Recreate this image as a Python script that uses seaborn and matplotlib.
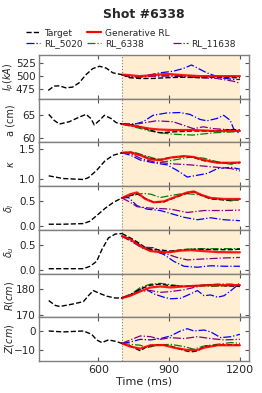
import numpy as np
import matplotlib
matplotlib.use("Agg")
import matplotlib.pyplot as plt
import seaborn as sns
from matplotlib.lines import Line2D

sns.set_style("ticks")
plt.rcParams['font.family'] = ['DejaVu Sans']

# ---------------- data ----------------
# Ip (kA)
ip_pre_t = [388, 413, 435, 463, 491, 519, 548, 577, 605, 633, 662, 700]
ip_pre = [472, 480.5, 481, 477, 478.5, 487, 503, 515, 519.5, 516, 506.5, 503]
ip_post_t = [700, 733, 775, 832, 889, 960, 1031, 1102, 1173, 1200]
ip_target = [503, 497, 495.5, 495.5, 497, 498, 497, 498, 497, 497]
ip_gen = [503, 502, 500, 502, 504.5, 502, 500, 500, 500, 500]
ip_5020_t = [700, 733, 790, 860, 917, 960, 995, 1024, 1060, 1116, 1173, 1200]
ip_5020 = [503, 498, 500, 506.5, 509.7, 515, 522, 515, 506.5, 497, 493.5, 493.5]
ip_6338 = [503, 500, 499, 501, 502, 501, 500, 500, 500, 500]
ip_11638 = [503, 499, 498, 500, 500, 499, 497, 495.5, 490, 486]

# minor radius a (cm)
a_pre_t = [390, 413, 435, 477, 519, 548, 569, 583, 605, 626, 654, 676, 700]
a_pre = [65.2, 63.9, 63.1, 63.6, 64.6, 65.2, 64.3, 62.9, 63.9, 65.0, 64.3, 63.4, 63.1]
a_post_t = [700, 750, 818, 860, 917, 1000, 1090, 1173, 1200]
a_target = [63.1, 62.9, 61.8, 61.2, 61.4, 61.6, 61.6, 61.9, 61.8]
a_gen = [63.1, 62.7, 62.1, 61.9, 61.8, 61.8, 61.6, 61.6, 61.6]
a_6338 = [63.1, 62.5, 61.6, 61.2, 60.9, 60.7, 61.2, 61.4, 61.6]
a_5020_t = [700, 748, 790, 832, 889, 946, 988, 1031, 1060, 1102, 1131, 1159, 1173, 1200]
a_5020 = [63.1, 63.0, 63.6, 65.0, 65.5, 65.6, 65.2, 64.1, 63.8, 64.3, 65.0, 63.9, 62.1, 60.9]
a_11638_t = [700, 775, 846, 917, 974, 1003, 1045, 1088, 1173, 1200]
a_11638 = [63.1, 63.2, 63.8, 63.6, 62.6, 62.1, 62.5, 62.1, 61.8, 61.6]

# elongation kappa
k_pre_t = [390, 451, 537, 558, 593, 629, 664, 700]
k_pre = [1.06, 1.016, 1.0, 1.03, 1.15, 1.31, 1.40, 1.44]
k_post_t = [700, 736, 778, 821, 863, 906, 963, 1005, 1048, 1105, 1162, 1200]
k_target = [1.44, 1.45, 1.40, 1.34, 1.33, 1.36, 1.38, 1.36, 1.31, 1.28, 1.27, 1.28]
k_gen = [1.44, 1.445, 1.40, 1.33, 1.32, 1.36, 1.385, 1.37, 1.32, 1.275, 1.275, 1.28]
k_6338_t = [700, 750, 792, 835, 878, 934, 991, 1048, 1105, 1162, 1200]
k_6338 = [1.44, 1.45, 1.40, 1.35, 1.29, 1.33, 1.37, 1.35, 1.29, 1.25, 1.28]
k_5020_t = [700, 736, 778, 835, 892, 934, 977, 1020, 1062, 1105, 1162, 1200]
k_5020 = [1.44, 1.40, 1.32, 1.275, 1.24, 1.15, 1.04, 1.07, 1.10, 1.18, 1.20, 1.17]
k_11638_t = [700, 736, 778, 835, 906, 991, 1076, 1162, 1200]
k_11638 = [1.44, 1.43, 1.35, 1.29, 1.26, 1.24, 1.21, 1.18, 1.14]

# lower triangularity
dl_pre_t = [390, 451, 537, 565, 593, 629, 664, 700]
dl_pre = [0.027, 0.027, 0.04, 0.09, 0.205, 0.356, 0.48, 0.57]
dl_post_t = [700, 736, 764, 799, 835, 878, 920, 977, 1005, 1034, 1076, 1133, 1200]
dl_target = [0.57, 0.62, 0.66, 0.56, 0.48, 0.49, 0.57, 0.67, 0.70, 0.63, 0.55, 0.53, 0.53]
dl_gen = [0.57, 0.65, 0.685, 0.55, 0.48, 0.50, 0.58, 0.685, 0.705, 0.64, 0.57, 0.55, 0.55]
dl_6338_t = [700, 736, 792, 821, 863, 906, 963, 1020, 1076, 1133, 1162, 1200]
dl_6338 = [0.57, 0.62, 0.665, 0.65, 0.58, 0.62, 0.665, 0.64, 0.58, 0.53, 0.51, 0.55]
dl_5020_t = [700, 728, 764, 806, 863, 906, 963, 1020, 1076, 1133, 1200]
dl_5020 = [0.57, 0.58, 0.41, 0.34, 0.31, 0.25, 0.17, 0.12, 0.16, 0.12, 0.10]
dl_11638_t = [700, 736, 764, 821, 906, 977, 1048, 1133, 1200]
dl_11638 = [0.57, 0.48, 0.39, 0.36, 0.34, 0.27, 0.31, 0.31, 0.32]

# upper triangularity
du_pre_t = [390, 537, 565, 593, 615, 643, 672, 700]
du_pre = [0.02, 0.02, 0.07, 0.17, 0.41, 0.65, 0.73, 0.74]
du_post_t = [700, 736, 764, 806, 849, 906, 963, 1020, 1090, 1162, 1200]
du_target = [0.74, 0.65, 0.57, 0.43, 0.41, 0.38, 0.41, 0.42, 0.41, 0.41, 0.42]
du_gen_t = [700, 736, 778, 821, 863, 906, 948, 991, 1048, 1105, 1162, 1200]
du_gen = [0.685, 0.62, 0.48, 0.38, 0.36, 0.36, 0.39, 0.40, 0.38, 0.36, 0.356, 0.356]
du_6338_t = [700, 736, 778, 821, 878, 920, 977, 1048, 1119, 1200]
du_6338 = [0.685, 0.64, 0.50, 0.41, 0.34, 0.38, 0.42, 0.43, 0.43, 0.43]
du_5020_t = [700, 750, 792, 835, 878, 920, 963, 1020, 1076, 1133, 1200]
du_5020 = [0.685, 0.55, 0.43, 0.39, 0.31, 0.17, 0.07, 0.05, 0.08, 0.07, 0.07]
du_11638_t = [700, 750, 792, 835, 878, 934, 977, 1048, 1133, 1200]
du_11638 = [0.685, 0.58, 0.46, 0.45, 0.34, 0.25, 0.20, 0.22, 0.24, 0.25]

# major radius R (cm)
r_pre_t = [390, 418, 437, 494, 537, 558, 579, 600, 636, 672, 700]
r_pre = [175.5, 173.6, 173.2, 174.2, 175.1, 177.4, 179.4, 178.5, 177.2, 176.5, 176.5]
r_post_t = [700, 736, 778, 821, 863, 906, 963, 1020, 1076, 1133, 1200]
r_target = [176.5, 177.7, 180.0, 181.5, 181.9, 181.3, 181.0, 181.3, 181.7, 181.3, 181.0]
r_gen = [176.5, 177.4, 179.1, 180.6, 181.0, 180.6, 181.0, 181.3, 181.5, 181.5, 181.5]
r_6338 = [176.5, 177.8, 180.6, 181.9, 182.2, 181.7, 181.0, 181.3, 181.0, 181.2, 181.5]
r_5020_t = [700, 721, 750, 792, 835, 878, 906, 948, 991, 1020, 1048, 1076, 1105, 1133, 1162, 1190, 1200]
r_5020 = [176.5, 177.4, 178.5, 180.6, 178.1, 176.8, 176.2, 176.4, 178.1, 179.4, 177.4, 177.7, 176.8, 177.4, 179.4, 181.5, 182.6]
r_11638_t = [700, 736, 778, 821, 863, 906, 963, 1005, 1048, 1105, 1162, 1200]
r_11638 = [176.5, 177.4, 179.1, 179.4, 178.7, 179.0, 179.7, 180.6, 181.5, 181.9, 181.9, 181.5]

# vertical position Z (cm)
z_pre_t = [390, 451, 537, 572, 593, 615, 643, 672, 700]
z_pre = [0.0, -0.5, 0.0, -1.75, -4.7, -6.1, -4.7, -5.4, -6.5]
z_post_t = [700, 736, 764, 778, 806, 849, 906, 963, 991, 1020, 1048, 1105, 1162, 1200]
z_target = [-6.5, -7.9, -9.6, -10.4, -8.2, -7.2, -7.9, -10.2, -11.0, -10.5, -8.2, -7.5, -7.2, -7.5]
z_gen_t = [700, 736, 778, 821, 878, 920, 977, 1020, 1048, 1105, 1200]
z_gen = [-6.5, -8.2, -9.3, -7.5, -7.4, -8.8, -10.0, -10.0, -8.8, -7.5, -7.5]
z_6338_t = [700, 736, 778, 806, 849, 906, 963, 1005, 1048, 1105, 1162, 1200]
z_6338 = [-6.5, -7.0, -7.5, -8.8, -7.5, -7.0, -8.2, -9.6, -7.9, -7.0, -6.1, -6.5]
z_5020_t = [700, 736, 778, 821, 863, 906, 948, 977, 1005, 1048, 1076, 1119, 1162, 1200]
z_5020 = [-6.5, -5.8, -4.4, -4.7, -4.0, -2.6, 0.0, 1.2, 0.0, 0.5, -0.5, -3.5, -3.0, -1.75]
z_11638_t = [700, 736, 778, 821, 863, 906, 963, 1020, 1076, 1133, 1200]
z_11638 = [-6.5, -4.7, -2.6, -3.0, -4.4, -3.5, -4.0, -3.0, -4.0, -4.7, -4.4]

ylabels = ['$I_p(kA)$', 'a (cm)', r'$\kappa$', r'$\delta_l$', r'$\delta_u$', '$R(cm)$', '$Z(cm)$']
yticks = [[475, 500, 525], [60, 65], [1.0, 1.5], [0.0, 0.5], [0.0, 0.5], [170, 180], [-10, 0]]
ylims = [(455.6, 541.6), (59.1, 68.6), (0.89, 1.61), (-0.09, 0.815), (-0.08, 0.815), (169, 186), (-15.8, 7.2)]

panels = [
    (ip_pre_t, ip_pre, ip_post_t, ip_target, (ip_post_t, ip_gen), (ip_5020_t, ip_5020), (ip_post_t, ip_6338), (ip_post_t, ip_11638)),
    (a_pre_t, a_pre, a_post_t, a_target, (a_post_t, a_gen), (a_5020_t, a_5020), (a_post_t, a_6338), (a_11638_t, a_11638)),
    (k_pre_t, k_pre, k_post_t, k_target, (k_post_t, k_gen), (k_5020_t, k_5020), (k_6338_t, k_6338), (k_11638_t, k_11638)),
    (dl_pre_t, dl_pre, dl_post_t, dl_target, (dl_post_t, dl_gen), (dl_5020_t, dl_5020), (dl_6338_t, dl_6338), (dl_11638_t, dl_11638)),
    (du_pre_t, du_pre, du_post_t, du_target, (du_gen_t, du_gen), (du_5020_t, du_5020), (du_6338_t, du_6338), (du_11638_t, du_11638)),
    (r_pre_t, r_pre, r_post_t, r_target, (r_post_t, r_gen), (r_5020_t, r_5020), (r_post_t, r_6338), (r_11638_t, r_11638)),
    (z_pre_t, z_pre, z_post_t, z_target, (z_gen_t, z_gen), (z_5020_t, z_5020), (z_6338_t, z_6338), (z_11638_t, z_11638)),
]

# ---------------- plot ----------------
fig, axes = plt.subplots(7, 1, figsize=(2.62, 3.93), dpi=100, sharex=True)
fig.subplots_adjust(left=0.149, right=0.95, top=0.860, bottom=0.0814, hspace=0)

for i, ax in enumerate(axes):
    pre_x, pre_y, post_x, tgt, gen, r1, r2, r3 = panels[i]
    ax.axvspan(700, 1200, color='orange', alpha=0.18, lw=0, zorder=0)
    ax.axvline(700, color='grey', ls=':', lw=0.8, zorder=1)
    sns.lineplot(x=r1[0], y=r1[1], ax=ax, color='blue', ls='-.', lw=0.9, sort=False, estimator=None)
    sns.lineplot(x=r2[0], y=r2[1], ax=ax, color='green', ls='-.', lw=0.9, sort=False, estimator=None)
    sns.lineplot(x=r3[0], y=r3[1], ax=ax, color='purple', ls='-.', lw=0.9, sort=False, estimator=None)
    sns.lineplot(x=post_x, y=tgt, ax=ax, color='black', ls='--', lw=1.0, sort=False, estimator=None)
    sns.lineplot(x=gen[0], y=gen[1], ax=ax, color='red', lw=1.6, alpha=0.9, sort=False, estimator=None)
    sns.lineplot(x=pre_x, y=pre_y, ax=ax, color='black', ls='--', lw=1.0, sort=False, estimator=None)
    ax.set_ylim(*ylims[i])
    ax.set_yticks(yticks[i])
    ax.set_ylabel(ylabels[i], fontsize=7)
    ax.yaxis.set_label_coords(-0.11, 0.5)
    ax.tick_params(direction='in', top=True, right=True, labelsize=7.5, length=3, pad=2.5,
                   color='#555555')
    for s in ax.spines.values():
        s.set_color('#808080')
        s.set_linewidth(1.0)

axes[0].set_xlim(349, 1238)
axes[-1].set_xticks([600, 900, 1200])
axes[-1].tick_params(axis='x', labelsize=8, pad=3)
axes[-1].set_xlabel('Time (ms)', fontsize=8, labelpad=1)

handles = [
    Line2D([], [], color='black', ls='--', lw=1.0),
    Line2D([], [], color='blue', ls='-.', lw=0.9),
    Line2D([], [], color='red', lw=1.6),
    Line2D([], [], color='green', ls='-.', lw=0.9),
    Line2D([], [], color='none'),
    Line2D([], [], color='purple', ls='-.', lw=0.9),
]
names = ['Target', 'RL_5020', 'Generative RL', 'RL_6338', '', 'RL_11638']
fig.legend(handles, names, ncol=3, loc='center', bbox_to_anchor=(0.5, 0.902),
           frameon=False, fontsize=6.5, handlelength=1.6, handletextpad=0.4,
           columnspacing=0.45, labelspacing=0.2)

fig.text(0.55, 0.963, 'Shot #6338', ha='center', va='center', fontsize=9, fontweight='bold')

fig.savefig('out.png', dpi=100)
